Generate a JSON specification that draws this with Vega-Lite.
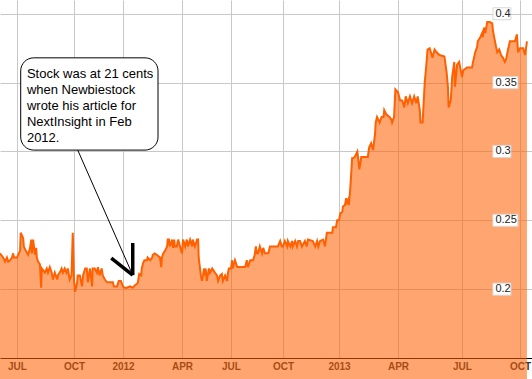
{
  "$schema": "https://vega.github.io/schema/vega-lite/v6.json",
  "width": 532,
  "height": 358,
  "autosize": {"type": "none"},
  "padding": {"left": 0, "top": 0, "right": 0, "bottom": 21},
  "config": {"view": {"stroke": null}, "font": "Liberation Sans"},
  "layer": [
    {
      "data": {
        "format": {"parse": {"d": "date"}},
        "values": [
      {"d":"2011-06-04","p":0.226},{"d":"2011-06-09","p":0.223},{"d":"2011-06-12","p":0.220},{"d":"2011-06-15","p":0.223},{"d":"2011-06-17","p":0.220},{"d":"2011-06-20","p":0.221},{"d":"2011-06-23","p":0.223},{"d":"2011-06-25","p":0.226},{"d":"2011-06-26","p":0.223},{"d":"2011-07-01","p":0.223},
      {"d":"2011-07-06","p":0.228},{"d":"2011-07-07","p":0.241},{"d":"2011-07-11","p":0.237},{"d":"2011-07-12","p":0.231},{"d":"2011-07-15","p":0.228},{"d":"2011-07-19","p":0.225},{"d":"2011-07-22","p":0.230},{"d":"2011-07-24","p":0.236},{"d":"2011-07-25","p":0.226},{"d":"2011-07-27","p":0.236},
      {"d":"2011-07-30","p":0.225},{"d":"2011-08-01","p":0.230},{"d":"2011-08-02","p":0.223},{"d":"2011-08-04","p":0.220},{"d":"2011-08-07","p":0.218},{"d":"2011-08-09","p":0.201},{"d":"2011-08-10","p":0.215},{"d":"2011-08-15","p":0.212},{"d":"2011-08-18","p":0.215},{"d":"2011-08-20","p":0.212},
      {"d":"2011-08-23","p":0.216},{"d":"2011-08-26","p":0.212},{"d":"2011-08-28","p":0.207},{"d":"2011-08-31","p":0.212},{"d":"2011-09-04","p":0.207},{"d":"2011-09-05","p":0.210},{"d":"2011-09-08","p":0.212},{"d":"2011-09-11","p":0.215},{"d":"2011-09-13","p":0.212},{"d":"2011-09-16","p":0.215},
      {"d":"2011-09-19","p":0.212},{"d":"2011-09-21","p":0.215},{"d":"2011-09-24","p":0.207},{"d":"2011-09-27","p":0.210},{"d":"2011-09-29","p":0.241},{"d":"2011-10-01","p":0.207},{"d":"2011-10-03","p":0.198},{"d":"2011-10-07","p":0.205},{"d":"2011-10-08","p":0.210},{"d":"2011-10-12","p":0.210},
      {"d":"2011-10-16","p":0.202},{"d":"2011-10-18","p":0.210},{"d":"2011-10-22","p":0.215},{"d":"2011-10-25","p":0.215},{"d":"2011-10-27","p":0.205},{"d":"2011-10-31","p":0.215},{"d":"2011-11-04","p":0.202},{"d":"2011-11-05","p":0.215},{"d":"2011-11-09","p":0.215},{"d":"2011-11-13","p":0.212},
      {"d":"2011-11-15","p":0.216},{"d":"2011-11-18","p":0.210},{"d":"2011-11-22","p":0.215},{"d":"2011-11-24","p":0.210},{"d":"2011-11-28","p":0.207},{"d":"2011-12-02","p":0.205},{"d":"2011-12-07","p":0.205},{"d":"2011-12-13","p":0.205},{"d":"2011-12-15","p":0.202},{"d":"2011-12-21","p":0.202},
      {"d":"2011-12-24","p":0.206},{"d":"2011-12-28","p":0.206},{"d":"2012-01-01","p":0.202},{"d":"2012-01-03","p":0.201},{"d":"2012-01-07","p":0.201},{"d":"2012-01-12","p":0.202},{"d":"2012-01-16","p":0.201},{"d":"2012-01-20","p":0.203},{"d":"2012-01-23","p":0.204},{"d":"2012-01-24","p":0.205},
      {"d":"2012-01-26","p":0.211},{"d":"2012-01-29","p":0.210},{"d":"2012-01-30","p":0.215},{"d":"2012-02-01","p":0.219},{"d":"2012-02-03","p":0.221},{"d":"2012-02-07","p":0.221},{"d":"2012-02-08","p":0.223},{"d":"2012-02-12","p":0.221},{"d":"2012-02-15","p":0.223},{"d":"2012-02-16","p":0.225},
      {"d":"2012-02-19","p":0.226},{"d":"2012-02-22","p":0.225},{"d":"2012-02-27","p":0.223},{"d":"2012-02-29","p":0.216},{"d":"2012-03-01","p":0.223},{"d":"2012-03-03","p":0.226},{"d":"2012-03-06","p":0.228},{"d":"2012-03-09","p":0.231},{"d":"2012-03-10","p":0.236},{"d":"2012-03-12","p":0.236},
      {"d":"2012-03-13","p":0.231},{"d":"2012-03-17","p":0.236},{"d":"2012-03-18","p":0.230},{"d":"2012-03-20","p":0.236},{"d":"2012-03-21","p":0.231},{"d":"2012-03-24","p":0.231},{"d":"2012-03-26","p":0.236},{"d":"2012-03-29","p":0.231},{"d":"2012-04-01","p":0.226},{"d":"2012-04-03","p":0.236},
      {"d":"2012-04-07","p":0.231},{"d":"2012-04-10","p":0.236},{"d":"2012-04-12","p":0.231},{"d":"2012-04-16","p":0.236},{"d":"2012-04-20","p":0.231},{"d":"2012-04-21","p":0.236},{"d":"2012-04-25","p":0.231},{"d":"2012-04-29","p":0.236},{"d":"2012-05-01","p":0.236},{"d":"2012-05-02","p":0.223},
      {"d":"2012-05-06","p":0.210},{"d":"2012-05-08","p":0.206},{"d":"2012-05-10","p":0.210},{"d":"2012-05-12","p":0.215},{"d":"2012-05-13","p":0.210},{"d":"2012-05-15","p":0.215},{"d":"2012-05-17","p":0.206},{"d":"2012-05-21","p":0.215},{"d":"2012-05-23","p":0.212},{"d":"2012-05-27","p":0.215},
      {"d":"2012-06-01","p":0.212},{"d":"2012-06-05","p":0.210},{"d":"2012-06-07","p":0.206},{"d":"2012-06-11","p":0.210},{"d":"2012-06-14","p":0.211},{"d":"2012-06-16","p":0.206},{"d":"2012-06-20","p":0.210},{"d":"2012-06-24","p":0.206},{"d":"2012-06-25","p":0.211},{"d":"2012-06-27","p":0.215},
      {"d":"2012-07-01","p":0.215},{"d":"2012-07-03","p":0.221},{"d":"2012-07-04","p":0.215},{"d":"2012-07-08","p":0.221},{"d":"2012-07-12","p":0.216},{"d":"2012-07-17","p":0.216},{"d":"2012-07-26","p":0.216},{"d":"2012-07-29","p":0.221},{"d":"2012-07-31","p":0.216},{"d":"2012-08-04","p":0.221},
      {"d":"2012-08-09","p":0.221},{"d":"2012-08-12","p":0.225},{"d":"2012-08-14","p":0.231},{"d":"2012-08-16","p":0.226},{"d":"2012-08-18","p":0.226},{"d":"2012-08-21","p":0.231},{"d":"2012-08-25","p":0.226},{"d":"2012-08-27","p":0.230},{"d":"2012-08-30","p":0.226},{"d":"2012-09-05","p":0.226},
      {"d":"2012-09-08","p":0.231},{"d":"2012-09-22","p":0.231},{"d":"2012-09-26","p":0.235},{"d":"2012-09-29","p":0.231},{"d":"2012-10-01","p":0.231},{"d":"2012-10-04","p":0.235},{"d":"2012-10-08","p":0.231},{"d":"2012-10-09","p":0.235},{"d":"2012-10-13","p":0.231},{"d":"2012-10-16","p":0.235},
      {"d":"2012-10-17","p":0.231},{"d":"2012-10-21","p":0.235},{"d":"2012-10-24","p":0.231},{"d":"2012-10-26","p":0.235},{"d":"2012-10-29","p":0.235},{"d":"2012-11-01","p":0.231},{"d":"2012-11-06","p":0.235},{"d":"2012-11-09","p":0.231},{"d":"2012-11-11","p":0.236},{"d":"2012-11-19","p":0.235},
      {"d":"2012-11-23","p":0.231},{"d":"2012-11-26","p":0.235},{"d":"2012-11-28","p":0.231},{"d":"2012-12-01","p":0.235},{"d":"2012-12-06","p":0.236},{"d":"2012-12-09","p":0.231},{"d":"2012-12-12","p":0.241},{"d":"2012-12-21","p":0.241},{"d":"2012-12-22","p":0.245},{"d":"2012-12-27","p":0.245},
      {"d":"2012-12-29","p":0.250},{"d":"2013-01-01","p":0.250},{"d":"2013-01-03","p":0.255},{"d":"2013-01-06","p":0.256},{"d":"2013-01-07","p":0.260},{"d":"2013-01-10","p":0.261},{"d":"2013-01-12","p":0.266},{"d":"2013-01-13","p":0.263},{"d":"2013-01-15","p":0.265},{"d":"2013-01-16","p":0.261},
      {"d":"2013-01-18","p":0.272},{"d":"2013-01-19","p":0.279},{"d":"2013-01-21","p":0.295},{"d":"2013-01-22","p":0.295},{"d":"2013-01-25","p":0.296},{"d":"2013-01-29","p":0.300},{"d":"2013-01-30","p":0.296},{"d":"2013-02-01","p":0.287},{"d":"2013-02-04","p":0.296},{"d":"2013-02-10","p":0.296},
      {"d":"2013-02-14","p":0.296},{"d":"2013-02-16","p":0.303},{"d":"2013-02-19","p":0.306},{"d":"2013-02-22","p":0.301},{"d":"2013-02-25","p":0.313},{"d":"2013-02-26","p":0.321},{"d":"2013-02-28","p":0.325},{"d":"2013-03-04","p":0.321},{"d":"2013-03-07","p":0.325},{"d":"2013-03-10","p":0.325},
      {"d":"2013-03-11","p":0.330},{"d":"2013-03-14","p":0.327},{"d":"2013-03-19","p":0.325},{"d":"2013-03-22","p":0.323},{"d":"2013-03-23","p":0.321},{"d":"2013-03-26","p":0.325},{"d":"2013-03-28","p":0.345},{"d":"2013-04-01","p":0.343},{"d":"2013-04-04","p":0.337},{"d":"2013-04-07","p":0.337},
      {"d":"2013-04-10","p":0.332},{"d":"2013-04-12","p":0.340},{"d":"2013-04-15","p":0.335},{"d":"2013-04-18","p":0.340},{"d":"2013-04-21","p":0.335},{"d":"2013-04-24","p":0.340},{"d":"2013-04-27","p":0.335},{"d":"2013-04-29","p":0.340},{"d":"2013-05-02","p":0.330},{"d":"2013-05-03","p":0.321},
      {"d":"2013-05-06","p":0.321},{"d":"2013-05-09","p":0.350},{"d":"2013-05-12","p":0.367},{"d":"2013-05-13","p":0.374},{"d":"2013-05-16","p":0.375},{"d":"2013-05-19","p":0.370},{"d":"2013-05-20","p":0.368},{"d":"2013-05-23","p":0.374},{"d":"2013-05-26","p":0.372},{"d":"2013-05-30","p":0.370},
      {"d":"2013-06-06","p":0.369},{"d":"2013-06-09","p":0.358},{"d":"2013-06-11","p":0.347},{"d":"2013-06-12","p":0.332},{"d":"2013-06-15","p":0.337},{"d":"2013-06-16","p":0.345},{"d":"2013-06-17","p":0.354},{"d":"2013-06-20","p":0.365},{"d":"2013-06-21","p":0.347},{"d":"2013-06-23","p":0.357},
      {"d":"2013-06-24","p":0.363},{"d":"2013-06-27","p":0.365},{"d":"2013-07-01","p":0.354},{"d":"2013-07-03","p":0.359},{"d":"2013-07-09","p":0.361},{"d":"2013-07-17","p":0.361},{"d":"2013-07-18","p":0.364},{"d":"2013-07-22","p":0.372},{"d":"2013-07-25","p":0.376},{"d":"2013-07-26","p":0.380},
      {"d":"2013-07-30","p":0.383},{"d":"2013-08-02","p":0.386},{"d":"2013-08-03","p":0.383},{"d":"2013-08-05","p":0.390},{"d":"2013-08-07","p":0.386},{"d":"2013-08-10","p":0.394},{"d":"2013-08-14","p":0.394},{"d":"2013-08-18","p":0.393},{"d":"2013-08-19","p":0.388},{"d":"2013-08-21","p":0.383},
      {"d":"2013-08-24","p":0.376},{"d":"2013-08-26","p":0.372},{"d":"2013-08-29","p":0.374},{"d":"2013-09-01","p":0.370},{"d":"2013-09-04","p":0.368},{"d":"2013-09-07","p":0.365},{"d":"2013-09-09","p":0.367},{"d":"2013-09-12","p":0.374},{"d":"2013-09-15","p":0.380},{"d":"2013-09-23","p":0.380},
      {"d":"2013-09-26","p":0.385},{"d":"2013-09-28","p":0.372},{"d":"2013-10-01","p":0.375},{"d":"2013-10-06","p":0.375},{"d":"2013-10-09","p":0.370},{"d":"2013-10-12","p":0.380}
        ]
      },
      "mark": {"type": "area", "color": "#ff6000", "fillOpacity": 0.56, "line": {"color": "#ff6000", "strokeWidth": 2}},
      "encoding": {
        "x": {
          "field": "d", "type": "quantitative",
          "scale": {
            "nice": false, "zero": false,
            "domain": [1307145600000, 1309478400000, 1317427200000, 1325376000000, 1333238400000, 1341100800000, 1349049600000, 1356998400000, 1364774400000, 1372636800000, 1380585600000, 1382227200000],
            "range": [0, 17, 74, 123, 182, 231, 283, 339, 398, 462, 520, 532]
          },
          "axis": {
            "title": null,
            "values": [1309478400000, 1317427200000, 1325376000000, 1333238400000, 1341100800000, 1349049600000, 1356998400000, 1364774400000, 1372636800000, 1380585600000],
            "labelExpr": "utcmonth(datum.value) == 0 ? utcFormat(datum.value, '%Y') : upper(utcFormat(datum.value, '%b'))",
            "grid": true, "gridColor": "#c8c8c8", "gridWidth": 1,
            "ticks": false, "domainColor": "#000000", "domainWidth": 1,
            "labelFontSize": 10, "labelFontWeight": "bold", "labelColor": "#333333", "labelPadding": 3,
            "labelOverlap": false, "labelFlush": false
          }
        },
        "y": {
          "field": "p", "type": "quantitative",
          "scale": {"domain": [0.15, 0.41], "nice": false, "zero": false},
          "axis": {
            "orient": "right", "title": null, "values": [0.2, 0.25, 0.3, 0.35, 0.4],
            "grid": true, "gridColor": "#c8c8c8", "gridWidth": 1,
            "labels": false, "ticks": false, "domain": false
          }
        }
      }
    },
    {
      "data": {"format": {"parse": {"x1": "date", "x2": "date"}}, "values": [{"x1": "2011-10-08", "y1": 0.301, "x2": "2012-01-16", "y2": 0.2102}]},
      "mark": {"type": "rule", "color": "#000000", "strokeWidth": 1},
      "encoding": {
        "x": {"field": "x1", "type": "quantitative"},
        "x2": {"field": "x2"},
        "y": {"field": "y1", "type": "quantitative"},
        "y2": {"field": "y2"}
      }
    },
    {
      "data": {"format": {"parse": {"x1": "date", "x2": "date"}}, "values": [
        {"x1": "2011-12-10", "y1": 0.2226, "x2": "2012-01-16", "y2": 0.2102},
        {"x1": "2012-01-16", "y1": 0.2335, "x2": "2012-01-16", "y2": 0.2102}
      ]},
      "mark": {"type": "rule", "color": "#000000", "strokeWidth": 3.5},
      "encoding": {
        "x": {"field": "x1", "type": "quantitative"},
        "x2": {"field": "x2"},
        "y": {"field": "y1", "type": "quantitative"},
        "y2": {"field": "y2"}
      }
    },
    {
      "data": {"format": {"parse": {"x1": "date", "x2": "date"}}, "values": [{"x1": "2011-07-07", "x2": "2012-02-24", "y1": 0.368, "y2": 0.301}]},
      "mark": {"type": "rect", "fill": "#ffffff", "stroke": "#000000", "strokeWidth": 1, "cornerRadius": 13},
      "encoding": {
        "x": {"field": "x1", "type": "quantitative"},
        "x2": {"field": "x2"},
        "y": {"field": "y1", "type": "quantitative"},
        "y2": {"field": "y2"}
      }
    },
    {
      "data": {"format": {"parse": {"x": "date"}}, "values": [{"x": "2011-07-17", "y": 0.3607, "text": "Stock was at 21 cents\nwhen Newbiestock\nwrote his article for\nNextInsight in Feb\n2012."}]},
      "mark": {"type": "text", "align": "left", "baseline": "top", "fontSize": 13, "lineHeight": 16, "lineBreak": "\n", "color": "#000000", "font": "Liberation Sans"},
      "encoding": {
        "x": {"field": "x", "type": "quantitative"},
        "y": {"field": "y", "type": "quantitative"},
        "text": {"field": "text"}
      }
    },
    {
      "data": {"values": [{"v": 0.25, "t": "0.25"}, {"v": 0.35, "t": "0.35"}]},
      "mark": {"type": "point", "shape": "M0,-0.48H2V0.48H0Z", "size": 625, "filled": true, "fill": "#ffffff", "stroke": "#d8d8d8", "strokeWidth": 1, "opacity": 1},
      "encoding": {
        "x": {"datum": 1376870400000, "type": "quantitative"},
        "y": {"field": "v", "type": "quantitative"}
      }
    },
    {
      "data": {"values": [{"v": 0.2, "t": "0.2"}, {"v": 0.3, "t": "0.3"}, {"v": 0.4, "t": "0.4"}]},
      "mark": {"type": "point", "shape": "M0,-0.667H2V0.667H0Z", "size": 324, "filled": true, "fill": "#ffffff", "stroke": "#d8d8d8", "strokeWidth": 1, "opacity": 1},
      "encoding": {
        "x": {"datum": 1376870400000, "type": "quantitative"},
        "y": {"field": "v", "type": "quantitative"}
      }
    },
    {
      "data": {"values": [{"v": 0.2, "t": "0.2"}, {"v": 0.25, "t": "0.25"}, {"v": 0.3, "t": "0.3"}, {"v": 0.35, "t": "0.35"}, {"v": 0.4, "t": "0.4"}]},
      "mark": {"type": "text", "align": "left", "baseline": "middle", "dx": 2.5, "fontSize": 11, "color": "#222222"},
      "encoding": {
        "x": {"datum": 1376870400000, "type": "quantitative"},
        "y": {"field": "v", "type": "quantitative"},
        "text": {"field": "t"}
      }
    }
  ]
}
